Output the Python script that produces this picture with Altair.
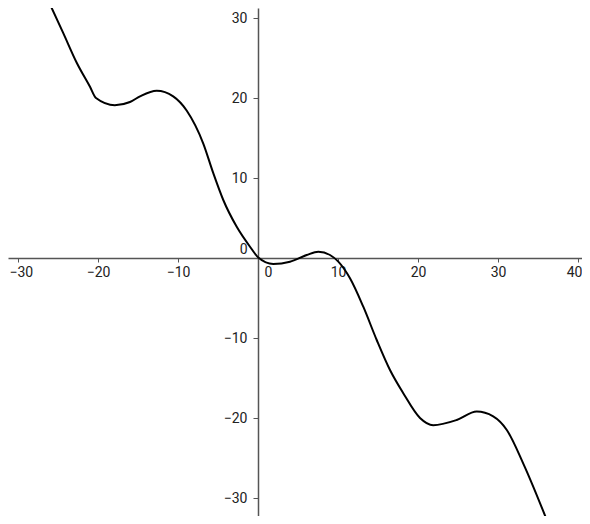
import altair as alt
import pandas as pd

# curve points (x, y in data units)
xs = [-26.25, -24.34, -22.66, -21.0, -20.25, -17.9, -16.0, -14.75, -12.66, -10.6,
      -8.9, -6.84, -5.59, -4.34, -2.66, -1.0, 0.04, 1.91, 4.0, 6.09, 7.54, 9.0,
      10.04, 11.5, 13.16, 14.84, 16.5, 18.16, 20.25, 21.9, 24.84, 27.34, 29.4,
      31.1, 33.16, 36.1]
ys = [32.25, 28.1, 24.4, 21.4, 20.0, 19.1, 19.5, 20.2, 20.9, 20.2,
      18.4, 14.3, 10.6, 7.25, 3.9, 1.41, 0.06, -0.75, -0.46, 0.375, 0.79, 0.375,
      -0.46, -2.54, -6.09, -10.25, -14.0, -16.9, -20.0, -20.9, -20.25, -19.2, -19.8,
      -21.5, -25.7, -32.75]

x_ticks = [-30, -20, -10, 0, 10, 20, 30, 40]
y_ticks = [-30, -20, -10, 0, 10, 20, 30]

df = pd.DataFrame({"x": xs, "y": ys})

W, H = 574, 508
X_DOM = [-31.25, 40.5]
Y_DOM = [-32.25, 31.25]
x0_px = (0 - X_DOM[0]) / (X_DOM[1] - X_DOM[0]) * W
y0_px = (Y_DOM[1] - 0) / (Y_DOM[1] - Y_DOM[0]) * H

FONT = "Roboto"

x_align = {"condition": [
    {"test": "datum.value == 0 || datum.value == -30", "value": "left"},
    {"test": "datum.value == 40", "value": "right"}], "value": "center"}
x_offset = {"condition": [
    {"test": "datum.value == 0", "value": 6},
    {"test": "datum.value == 40", "value": 4},
    {"test": "datum.value == -30", "value": -9}], "value": 0}
y_base = {"condition": {"test": "datum.value == 0", "value": "bottom"}, "value": "middle"}
y_offset = {"condition": {"test": "datum.value == 0", "value": -2}, "value": 0}

chart = alt.Chart(df).mark_line(
    color="black", strokeWidth=2, clip=True, interpolate="monotone"
).encode(
    x=alt.X("x:Q", scale=alt.Scale(domain=X_DOM, nice=False, zero=False),
            axis=alt.Axis(values=x_ticks, title=None, grid=False, orient="bottom",
                          offset=-(H - y0_px), domainColor="#555555", tickColor="#555555",
                          domainWidth=1.5, tickSize=4, labelPadding=3,
                          labelFont=FONT, labelFontSize=14, labelColor="#222222",
                          labelFlush=False, labelOverlap=False,
                          labelAlign=x_align, labelOffset=x_offset)),
    y=alt.Y("y:Q", scale=alt.Scale(domain=Y_DOM, nice=False, zero=False),
            axis=alt.Axis(values=y_ticks, title=None, grid=False, orient="left",
                          offset=-x0_px, domainColor="#555555", tickColor="#555555",
                          domainWidth=1.5, tickSize=5, labelPadding=6,
                          labelFont=FONT, labelFontSize=14, labelColor="#222222",
                          labelFlush=False, labelOverlap=False,
                          labelBaseline=y_base, labelOffset=y_offset)),
    order=alt.Order("x:Q"),
).properties(
    width=W, height=H, padding=0, autosize=alt.AutoSizeParams(type="none")
).configure_view(stroke=None)

chart.save("out.html", embed_options={"renderer": "svg", "actions": False})
